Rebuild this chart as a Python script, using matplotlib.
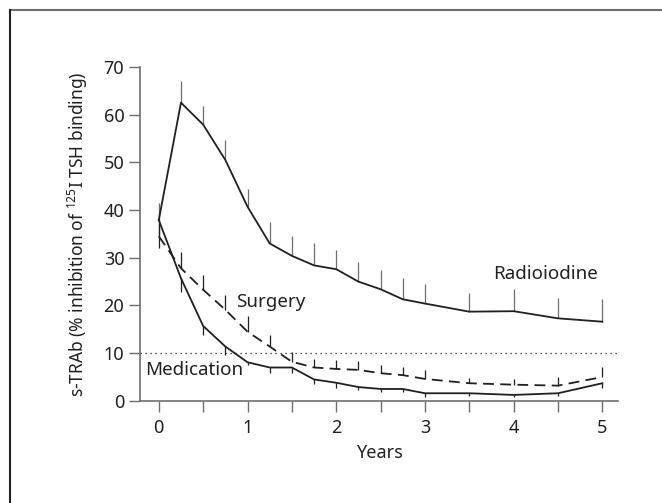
import matplotlib
matplotlib.use("Agg")
import matplotlib.pyplot as plt
from matplotlib.lines import Line2D
from matplotlib.ticker import MultipleLocator

plt.rcParams['font.family'] = ['Noto Sans', 'DejaVu Sans']
plt.rcParams['mathtext.fontset'] = 'custom'
plt.rcParams['mathtext.rm'] = 'Noto Sans'

# data (years, % inhibition)
radio_x = [0, 0.25, 0.5, 0.75, 1, 1.25, 1.5, 1.75, 2, 2.25, 2.5, 2.75, 3, 3.5, 4, 4.5, 5]
radio_y = [37.9, 62.5, 57.9, 50.5, 40.7, 33.0, 30.4, 28.4, 27.6, 25.0, 23.4, 21.3, 20.4, 18.7, 18.8, 17.3, 16.6]
radio_err = [3.6, 4.5, 4.0, 4.2, 3.7, 4.5, 4.1, 4.6, 4.0, 4.2, 4.0, 4.4, 4.0, 4.0, 4.6, 4.3, 4.8]

surg_x = [0, 0.25, 0.5, 0.75, 1, 1.25, 1.5, 1.75, 2, 2.25, 2.5, 2.75, 3, 3.5, 4, 4.5, 5]
surg_y = [34.5, 27.8, 23.3, 19.1, 14.5, 11.4, 8.2, 7.0, 6.7, 6.5, 5.8, 5.4, 4.6, 3.7, 3.4, 3.2, 5.0]
surg_err = [2.5, 3.5, 3.1, 3.1, 3.2, 2.4, 2.1, 1.7, 1.8, 1.9, 1.7, 1.6, 1.8, 1.0, 1.2, 1.9, 2.1]

med_x = [0, 0.25, 0.5, 0.75, 1, 1.25, 1.5, 1.75, 2, 2.25, 2.5, 2.75, 3, 3.5, 4, 4.5, 5]
med_y = [37.9, 25.7, 15.7, 11.4, 8.1, 7.0, 7.0, 4.5, 3.8, 2.9, 2.5, 2.5, 1.6, 1.6, 1.25, 1.6, 3.7]
med_err = [5.9, 2.8, 1.9, 1.8, 0.6, 1.2, 1.2, 0.9, 1.1, 0.7, 0.6, 0.6, 0.7, 0.6, 0.5, 0.6, 1.0]

line_col = '#231f20'
grey = '#6d6e70'

fig = plt.figure(figsize=(6.62, 5.03), dpi=100)
ax = fig.add_axes([0.212, 0.203, 0.722, 0.664])

zeros = [0] * len(radio_x)
ax.errorbar(radio_x, radio_y, yerr=[zeros, radio_err], fmt='none', ecolor=grey, elinewidth=0.9, capsize=0)
ax.errorbar(surg_x, surg_y, yerr=[zeros, surg_err], fmt='none', ecolor=line_col, elinewidth=0.9, capsize=0)
ax.errorbar(med_x, med_y, yerr=[med_err, zeros], fmt='none', ecolor=line_col, elinewidth=0.9, capsize=0)

ax.plot(radio_x, radio_y, color=line_col, lw=1.3)
ax.plot(surg_x, surg_y, color=line_col, lw=1.3, ls=(0, (6, 3.5)))
ax.plot(med_x, med_y, color=line_col, lw=1.3)

ax.axhline(10, color=line_col, lw=0.9, ls=(0, (1, 3)))

ax.text(4.36, 26.6, 'Radioiodine', fontsize=13.5, ha='center', va='center', color=line_col)
ax.text(1.26, 20.8, 'Surgery', fontsize=13.5, ha='center', va='center', color=line_col)
ax.text(0.40, 6.5, 'Medication', fontsize=13.5, ha='center', va='center', color=line_col)

ax.set_xlim(-0.208, 5.18)
ax.set_ylim(0, 70)
ax.set_yticks([0, 10, 20, 30, 40, 50, 60, 70])
ax.set_xticks([0, 1, 2, 3, 4, 5])
ax.xaxis.set_minor_locator(MultipleLocator(0.5))

for side in ['top', 'right']:
    ax.spines[side].set_visible(False)
for side in ['left', 'bottom']:
    ax.spines[side].set_color(grey)
    ax.spines[side].set_linewidth(1.2)

ax.tick_params(axis='both', which='both', direction='out', length=8, width=1.0,
               color=grey, labelsize=13, labelcolor=line_col)
ax.tick_params(axis='x', pad=5)

ax.set_xlabel('Years', fontsize=13, color=line_col, labelpad=5)
ax.set_ylabel('s-TRAb (% inhibition of $^{125}$I TSH binding)', fontsize=12.5, color=line_col, labelpad=10)

# frame lines at top and left of the figure
fig.add_artist(Line2D([10 / 662, 1.0], [1 - 10 / 503, 1 - 10 / 503], color=grey, lw=1.5))
fig.add_artist(Line2D([10 / 662, 10 / 662], [0, 1 - 10 / 503], color=line_col, lw=1.5))

fig.savefig('out.png', dpi=100)
